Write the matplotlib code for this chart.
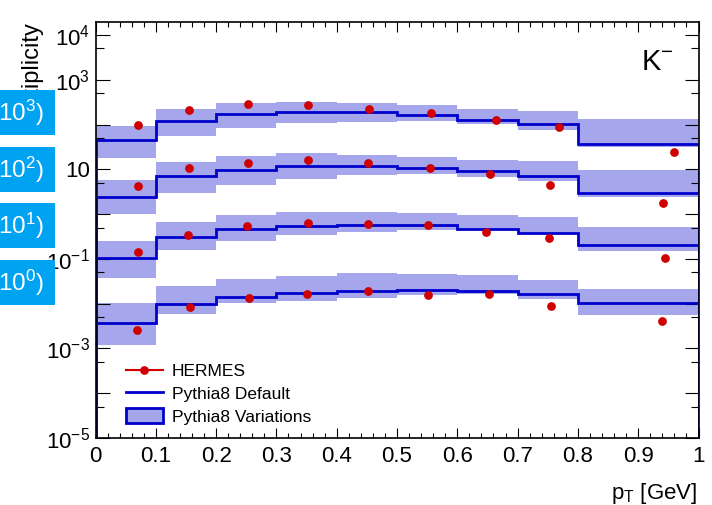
import numpy as np
import matplotlib.pyplot as plt
from matplotlib.patches import Rectangle, Patch
from matplotlib.lines import Line2D
from matplotlib.ticker import FixedLocator, FixedFormatter

plt.rcParams['font.family'] = ['Liberation Sans', 'DejaVu Sans']
plt.rcParams['mathtext.fontset'] = 'custom'
plt.rcParams['mathtext.rm'] = 'Liberation Sans'
plt.rcParams['mathtext.it'] = 'Liberation Sans:italic'
plt.rcParams['mathtext.bf'] = 'Liberation Sans:bold'

# pT bin edges [GeV]
edges = [0.0, 0.1, 0.2, 0.3, 0.4, 0.5, 0.6, 0.7, 0.8, 1.0]
scales = [1e3, 1e2, 1e1, 1e0]
scale_labels = [r'$(\times10^{3})$', r'$(\times10^{2})$', r'$(\times10^{1})$', r'$(\times10^{0})$']

# HERMES data (unscaled)
hermes_x = [
    [0.070, 0.155, 0.253, 0.353, 0.454, 0.556, 0.664, 0.768, 0.960],
    [0.070, 0.155, 0.253, 0.352, 0.452, 0.555, 0.654, 0.754, 0.941],
    [0.071, 0.154, 0.251, 0.353, 0.452, 0.552, 0.648, 0.752, 0.945],
    [0.068, 0.156, 0.254, 0.351, 0.452, 0.551, 0.653, 0.755, 0.939],
]
hermes_y = [
    [0.0964, 0.215, 0.282, 0.268, 0.223, 0.182, 0.127, 0.0871, 0.0247],
    [0.0426, 0.107, 0.141, 0.158, 0.141, 0.109, 0.0802, 0.0457, 0.0178],
    [0.0141, 0.0341, 0.0541, 0.0631, 0.0600, 0.0570, 0.0398, 0.0297, 0.0104],
    [0.00255, 0.00845, 0.0136, 0.01644, 0.01945, 0.01585, 0.01644, 0.00871, 0.00404],
]

# Pythia8 default tune
pythia_default = [
    [0.0441, 0.121, 0.169, 0.195, 0.188, 0.164, 0.129, 0.1016, 0.0365],
    [0.0242, 0.0699, 0.0985, 0.1184, 0.1184, 0.107, 0.0903, 0.0699, 0.0297],
    [0.0107, 0.0303, 0.0457, 0.0549, 0.0570, 0.0570, 0.0464, 0.0384, 0.0208],
    [0.00372, 0.00984, 0.0141, 0.01754, 0.01875, 0.0198, 0.0191, 0.01644, 0.01016],
]

# Pythia8 variation envelope
pythia_hi = [
    [0.0917, 0.227, 0.308, 0.324, 0.308, 0.278, 0.223, 0.205, 0.136],
    [0.0570, 0.143, 0.195, 0.227, 0.205, 0.185, 0.158, 0.151, 0.095],
    [0.0247, 0.0655, 0.0950, 0.109, 0.109, 0.105, 0.095, 0.0858, 0.0514],
    [0.0105, 0.0247, 0.0360, 0.0413, 0.0481, 0.0464, 0.0426, 0.0341, 0.0215],
]
pythia_lo = [
    [0.01754, 0.0549, 0.0828, 0.107, 0.1166, 0.1184, 0.1037, 0.0774, 0.0319],
    [0.0100, 0.0297, 0.0441, 0.0608, 0.0736, 0.0787, 0.0675, 0.0549, 0.0242],
    [0.00378, 0.0161, 0.0255, 0.0347, 0.0404, 0.0448, 0.0441, 0.0378, 0.0153],
    [0.00118, 0.00578, 0.01016, 0.01148, 0.0136, 0.0153, 0.01668, 0.01247, 0.0055],
]

band_color = '#a5a6eb'
line_color = '#0000cc'
data_color = '#d00000'

W, H = 712, 505
fig = plt.figure(figsize=(W / 100, H / 100), dpi=100)
ax = fig.add_axes([95.5 / W, 1 - 438 / H, (698.5 - 95.5) / W, (438 - 22) / H])

e = np.array(edges)
for s, d, hi, lo, hx, hy in zip(scales, pythia_default, pythia_hi, pythia_lo, hermes_x, hermes_y):
    hi = np.array(hi) * s
    lo = np.array(lo) * s
    ax.bar(e[:-1], hi - lo, bottom=lo, width=np.diff(e), align='edge',
           color=band_color, linewidth=0, zorder=1)
    ax.stairs(np.array(d) * s, e, color=line_color, lw=2, zorder=2)
    ax.plot(hx, np.array(hy) * s, 'o', color=data_color, ms=6.3, mec='none', zorder=3)

ax.set_yscale('log')
ax.set_xlim(0, 1)
ax.set_ylim(1e-5, 1.95e4)

ax.xaxis.set_major_locator(FixedLocator(np.arange(0, 1.01, 0.1)))
ax.xaxis.set_minor_locator(FixedLocator(np.arange(0, 1.001, 0.02)))
ax.xaxis.set_major_formatter(FixedFormatter(['0', '0.1', '0.2', '0.3', '0.4', '0.5',
                                             '0.6', '0.7', '0.8', '0.9', '1']))
ydec = [10.0 ** n for n in range(-5, 5)]
ylab = {-5: r'$10^{-5}$', -3: r'$10^{-3}$', -1: r'$10^{-1}$', 1: '10',
        3: r'$10^{3}$', 4: r'$10^{4}$'}
ax.yaxis.set_major_locator(FixedLocator(ydec))
ax.yaxis.set_minor_locator(FixedLocator([5 * v for v in ydec]))
ax.yaxis.set_major_formatter(FixedFormatter([ylab.get(n, '') for n in range(-5, 5)]))

ax.tick_params(axis='both', which='both', direction='in', top=True, right=True,
               width=0.8, colors='black', labelsize=16)
ax.tick_params(axis='x', which='major', length=7.2, pad=6)
ax.tick_params(axis='x', which='minor', length=3.6)
ax.tick_params(axis='y', which='major', length=10, pad=4)
ax.tick_params(axis='y', which='minor', length=5.8)
for sp in ax.spines.values():
    sp.set_linewidth(1.2)

# legend
handles = [
    Line2D([], [], color=data_color, lw=1.5, marker='o', ms=6.3, mec='none'),
    Line2D([], [], color=line_color, lw=2),
    Patch(facecolor=band_color, edgecolor=line_color, lw=2),
]
ax.legend(handles, ['HERMES', 'Pythia8 Default', 'Pythia8 Variations'],
          loc='upper left', bbox_to_anchor=(125.5 / W, 1 - 363 / H),
          bbox_transform=fig.transFigure, frameon=False, fontsize=12.5,
          handlelength=2.15, handleheight=0.95, handletextpad=0.5,
          labelspacing=0.36, borderpad=0, borderaxespad=0)

ax.text(0.904, 0.905, r'K$^{-}$', transform=ax.transAxes, fontsize=21,
        ha='left', va='center')

fig.text(697 / W, 1 - 493 / H, r'p$_{\mathrm{T}}$ [GeV]', ha='right', va='center', fontsize=16)
fig.text(31 / W, 1 - 21 / H, 'Multiplicity', rotation=90, ha='center', va='top', fontsize=17)

# scale-factor tags along the left edge
tag_y = [90, 147, 203, 260]
for y0, lab in zip(tag_y, scale_labels):
    fig.add_artist(Rectangle((0, 1 - (y0 + 45) / H), 55 / W, 45 / H,
                             transform=fig.transFigure, facecolor='#00a2f2',
                             edgecolor='none', zorder=5))
    fig.text(44 / W, 1 - (y0 + 22.5) / H, lab, color='white', fontsize=17.5,
             ha='right', va='center', zorder=6)

fig.savefig('out.png', dpi=100)
